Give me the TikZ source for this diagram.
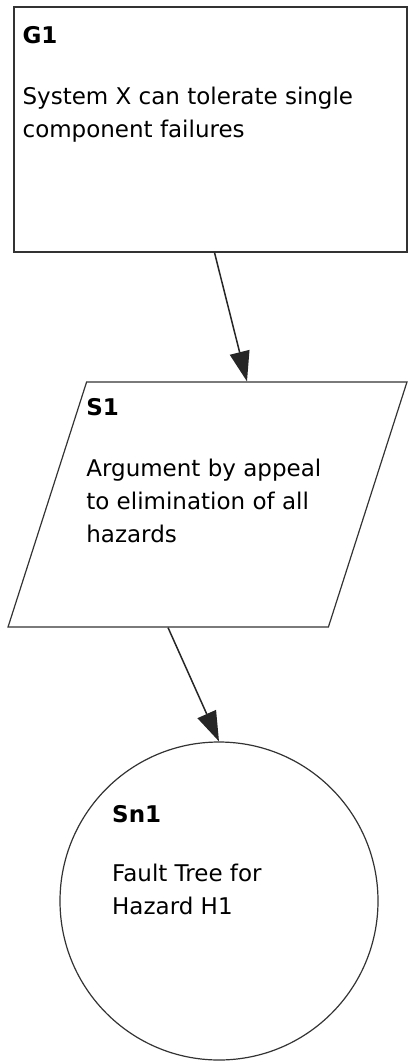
\documentclass[tikz,border=0pt]{standalone}
\usepackage{fontspec}
\setmainfont{DejaVu Sans}
\usepackage{tikz}
\usetikzlibrary{arrows.meta, calc, shapes.geometric}

\newcommand{\gsnfont}{\fontsize{23}{33}\selectfont}

\begin{document}
\begin{tikzpicture}[
    x=1pt, y=-1pt,
    >={Triangle[length=30pt, width=20pt]},
    goal/.style={
        draw=black!80,
        line width=1.2pt,
        minimum width=393pt,
        minimum height=245pt
    },
    strategy/.style={
        draw=black!80,
        line width=1.2pt,
        trapezium,
        trapezium left angle=72,
        trapezium right angle=108,
        trapezium stretches,
        minimum width=399pt,
        minimum height=245pt
    },
    solution/.style={
        draw=black!80,
        line width=1.2pt,
        circle,
        minimum size=318pt
    },
    txt/.style={anchor=north west, inner sep=0pt, align=left, font=\gsnfont},
    link/.style={->, line width=1.5pt, black!85}
]
\useasboundingbox (0,0) rectangle (408,1062);

\node[goal] (G1) at (210.5,129.5) {};
\node[strategy] (S1) at (207.5,504.5) {};
\node[solution] (Sn1) at (219,901) {};

\node[txt] (G1txt) at ([shift={(9,20)}]G1.north west)
    {\textbf{G1}\\[28pt]System X can tolerate single\\component failures};
\node[txt] (S1txt) at ([shift={(0,17)}]S1.top left corner)
    {\textbf{S1}\\[28pt]Argument by appeal\\to elimination of all\\hazards};
\node[txt] (Sn1txt) at ([shift={(-107,-96)}]Sn1.center)
    {\textbf{Sn1}\\[26pt]Fault Tree for\\Hazard H1};

% edges of the parallelogram
\coordinate (S1top) at ($(S1.top left corner)!0.5!(S1.top right corner)$);
\coordinate (S1bot) at ($(S1.bottom left corner)!0.5!(S1.bottom right corner)$);

\draw[link] ([xshift=4pt]G1.south) -- (S1top);
\draw[link] (S1bot) -- (Sn1.north);
\end{tikzpicture}
\end{document}
